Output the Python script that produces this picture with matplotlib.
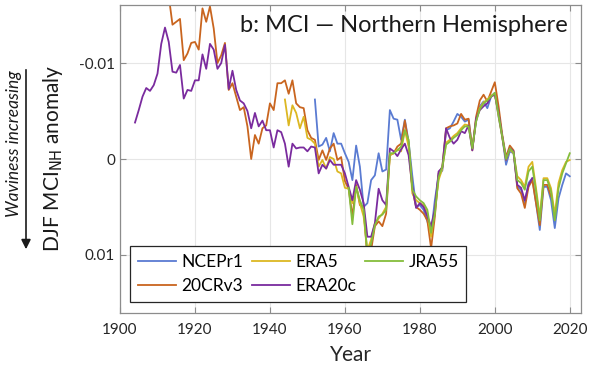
import matplotlib
matplotlib.use('Agg')
import matplotlib.pyplot as plt
import numpy as np

plt.rcParams['font.family'] = ['Lato', 'DejaVu Sans']

# DJF MCI_NH anomaly, values in units of 1e-3
yrs_ncep = list(range(1952, 2021))
ncep = [-6.2, -1.3, -1.5, -2.2, -0.8, -2.7, -1.6, -1.6, -0.6, 0.3,
        2.2, -1.4, 0.8, 5.0, 4.6, 2.2, 1.7, -0.6, 1.3, 1.1,
        -5.1, -4.2, -4.1, -2.0, -4.1, -1.8, 1.8, 5.0, 4.8, 5.3,
        6.5, 7.7, 4.3, 1.7, 1.2, -3.0, -3.2, -3.9, -4.7, -4.4,
        -3.9, -4.1, -1.1, -3.9, -5.5, -6.0, -5.3, -6.5, -6.9, -4.4,
        -2.3, 0.6, -0.8, -0.6, 2.9, 3.2, 4.6, 2.5, 2.0, 4.6,
        7.4, 2.9, 2.9, 4.3, 7.2, 4.1, 2.7, 1.5, 1.8]

yrs_era5 = list(range(1944, 2021))
era5 = [-6.2, -3.5, -5.6, -4.8, -3.2, -4.4, -2.2, -2.0, -1.6, 0.8,
        0.1, 1.0, -0.2, 0.0, 1.3, 1.5, 3.0, 3.1, 4.6, 2.9,
        4.6, 6.0, 9.5, 8.4, 6.7, 6.2, 5.7, 5.0, -0.4, -0.6,
        -1.0, -0.8, -3.0, -1.3, 3.6, 4.3, 4.6, 4.8, 5.7, 8.1,
        5.3, 2.2, 1.0, -1.7, -2.0, -2.4, -2.7, -3.2, -3.6, -3.5,
        -1.2, -4.0, -5.3, -5.9, -6.2, -6.6, -6.8, -4.5, -2.2, 0.1,
        -1.0, -0.6, 1.8, 2.2, 2.9, 0.8, 0.3, 3.05, 6.0, 2.0,
        2.0, 3.05, 5.8, 2.5, 1.15, 0.3, 0.1]

yrs_jra55 = list(range(1961, 2021))
jra55 = [3.0, 6.8, 2.9, 4.3, 5.3, 10.0, 8.8, 6.9, 6.0, 5.8,
         5.3, -0.6, -0.6, -0.9, -1.3, -3.0, -2.0, 3.2, 3.9, 4.3,
         4.6, 5.3, 7.7, 5.7, 1.9, 0.8, -1.5, -1.8, -2.2, -2.5,
         -3.0, -3.4, -3.4, -1.1, -3.9, -5.2, -5.8, -6.1, -6.5, -6.9,
         -4.6, -2.3, 0.0, -1.1, -0.7, 2.2, 2.5, 3.2, 1.3, 0.8,
         3.4, 6.4, 2.2, 2.2, 3.4, 6.4, 3.05, 1.5, 0.45, -0.6]

yrs_20cr = list(range(1913, 2016))
cr20 = [-17.0, -14.0, -14.3, -14.6, -10.3, -11.0, -12.1, -12.2, -11.4, -15.7,
        -14.3, -15.9, -13.6, -10.0, -10.8, -12.1, -7.2, -7.9, -6.5, -5.1,
        -5.4, -3.4, 0.0, -2.5, -1.6, -3.2, -3.5, -5.8, -5.1, -7.9,
        -7.9, -8.2, -6.8, -8.2, -5.8, -5.4, -5.3, -3.0, -2.2, -2.0,
        0.1, -0.9, 0.1, -1.1, -1.6, 0.1, -0.2, 2.3, 3.1, 6.0,
        2.7, 4.8, 5.0, 10.5, 9.5, 7.0, 6.5, 7.0, 5.7, -0.4,
        -0.6, -1.3, -1.6, -4.0, -1.6, 3.2, 5.0, 5.3, 5.7, 6.4,
        9.3, 6.0, 1.5, 0.8, -3.2, -3.4, -3.5, -3.7, -4.7, -4.1,
        -4.2, -0.9, -4.4, -6.1, -6.7, -6.0, -7.0, -8.0, -5.5, -2.5,
        -0.2, -1.4, -0.9, 3.05, 3.6, 5.1, 2.9, 2.2, 4.6, 6.9,
        2.7, 2.7, 3.9]

yrs_era20c = list(range(1904, 2011))
era20c = [-3.8, -5.1, -6.5, -7.4, -7.1, -7.7, -8.9, -12.0, -13.7, -12.2,
          -9.1, -9.0, -9.8, -6.3, -7.2, -7.1, -8.2, -8.2, -10.9, -9.4,
          -12.0, -11.4, -9.4, -10.0, -11.9, -7.3, -9.2, -7.2, -6.1, -5.8,
          -5.0, -3.2, -4.8, -3.4, -4.0, -3.0, -3.0, -1.2, -3.0, -2.8,
          -1.6, 0.8, -1.6, -1.1, -1.2, -1.2, -0.8, -1.3, -1.2, 1.5,
          0.6, 1.0, 0.1, 0.6, 0.6, 0.6, 1.5, 2.9, 4.3, 2.2,
          3.2, 4.6, 8.1, 8.1, 6.7, 3.1, 4.3, 4.8, -1.1, -0.8,
          -0.3, -1.0, -1.6, -0.4, 2.9, 5.1, 4.6, 5.0, 6.0, 7.0,
          5.3, 1.3, 0.9, -3.2, -2.2, -1.6, -2.0, -2.9, -2.7, -3.5,
          -0.9, -4.2, -5.1, -5.5, -5.8, -6.5, -6.7, -4.8, -2.3, 0.1,
          -1.1, -0.8, 2.7, 3.0, 4.3, 2.7, 2.0]

series = [
    ('NCEPr1', yrs_ncep, ncep, '#5a7bd2'),
    ('20CRv3', yrs_20cr, cr20, '#c9651f'),
    ('ERA5', yrs_era5, era5, '#dcb722'),
    ('ERA20c', yrs_era20c, era20c, '#7a2b9e'),
    ('JRA55', yrs_jra55, jra55, '#85bd3c'),
]

fig = plt.figure(figsize=(5.98, 3.69), dpi=100)
ax = fig.add_axes([0.2007, 0.1518, 0.7709, 0.8346])

for name, yrs, vals, col in series:
    ax.plot(yrs, np.array(vals) * 1e-3, color=col, lw=1.3, label=name)

ax.set_xlim(1900, 2023)
ax.set_ylim(0.01605, -0.01605)
ax.set_xticks([1900, 1920, 1940, 1960, 1980, 2000, 2020])
ax.set_yticks([-0.01, 0, 0.01])
ax.set_yticklabels(['-0.01', '0', '0.01'])
ax.grid(True, color='#e6e6e6', lw=0.8)
ax.set_axisbelow(True)
ax.tick_params(direction='in', top=True, right=True, length=4,
               color='#8c8c8c', labelsize=11, labelcolor='#262626')
ax.tick_params(axis='x', pad=7)
for sp in ax.spines.values():
    sp.set_color('#8c8c8c')
    sp.set_linewidth(0.9)

ax.set_xlabel('Year', fontsize=15, color='#262626', labelpad=6)
ax.text(0.972, 0.935, 'b: MCI \u2014 Northern Hemisphere', transform=ax.transAxes,
        ha='right', va='center', fontsize=17, color='#1a1a1a')

fig.text(0.0886, 0.5705, 'DJF MCI$_{\\mathrm{NH}}$ anomaly', rotation=90,
         ha='center', va='center', fontsize=15, color='#1a1a1a')
fig.text(0.024, 0.611, 'Waviness increasing', rotation=90, style='italic',
         ha='center', va='center', fontsize=12.5, color='#1a1a1a')
fig.add_artist(matplotlib.patches.FancyArrowPatch(
    (26 / 598, 1 - 67 / 369), (26 / 598, 1 - 252 / 369),
    transform=fig.transFigure, arrowstyle='-|>', mutation_scale=14,
    color='#1a1a1a', lw=1.2))

leg = ax.legend(ncol=3, loc='lower left', bbox_to_anchor=(0.022, 0.035),
                borderaxespad=0, fontsize=12.5, frameon=True, fancybox=False,
                edgecolor='#262626', framealpha=1, handlelength=2.2,
                columnspacing=0.5, labelspacing=0.5, borderpad=0.45,
                handletextpad=0.3)
leg.get_frame().set_linewidth(0.9)

fig.savefig('out.png', dpi=100)
